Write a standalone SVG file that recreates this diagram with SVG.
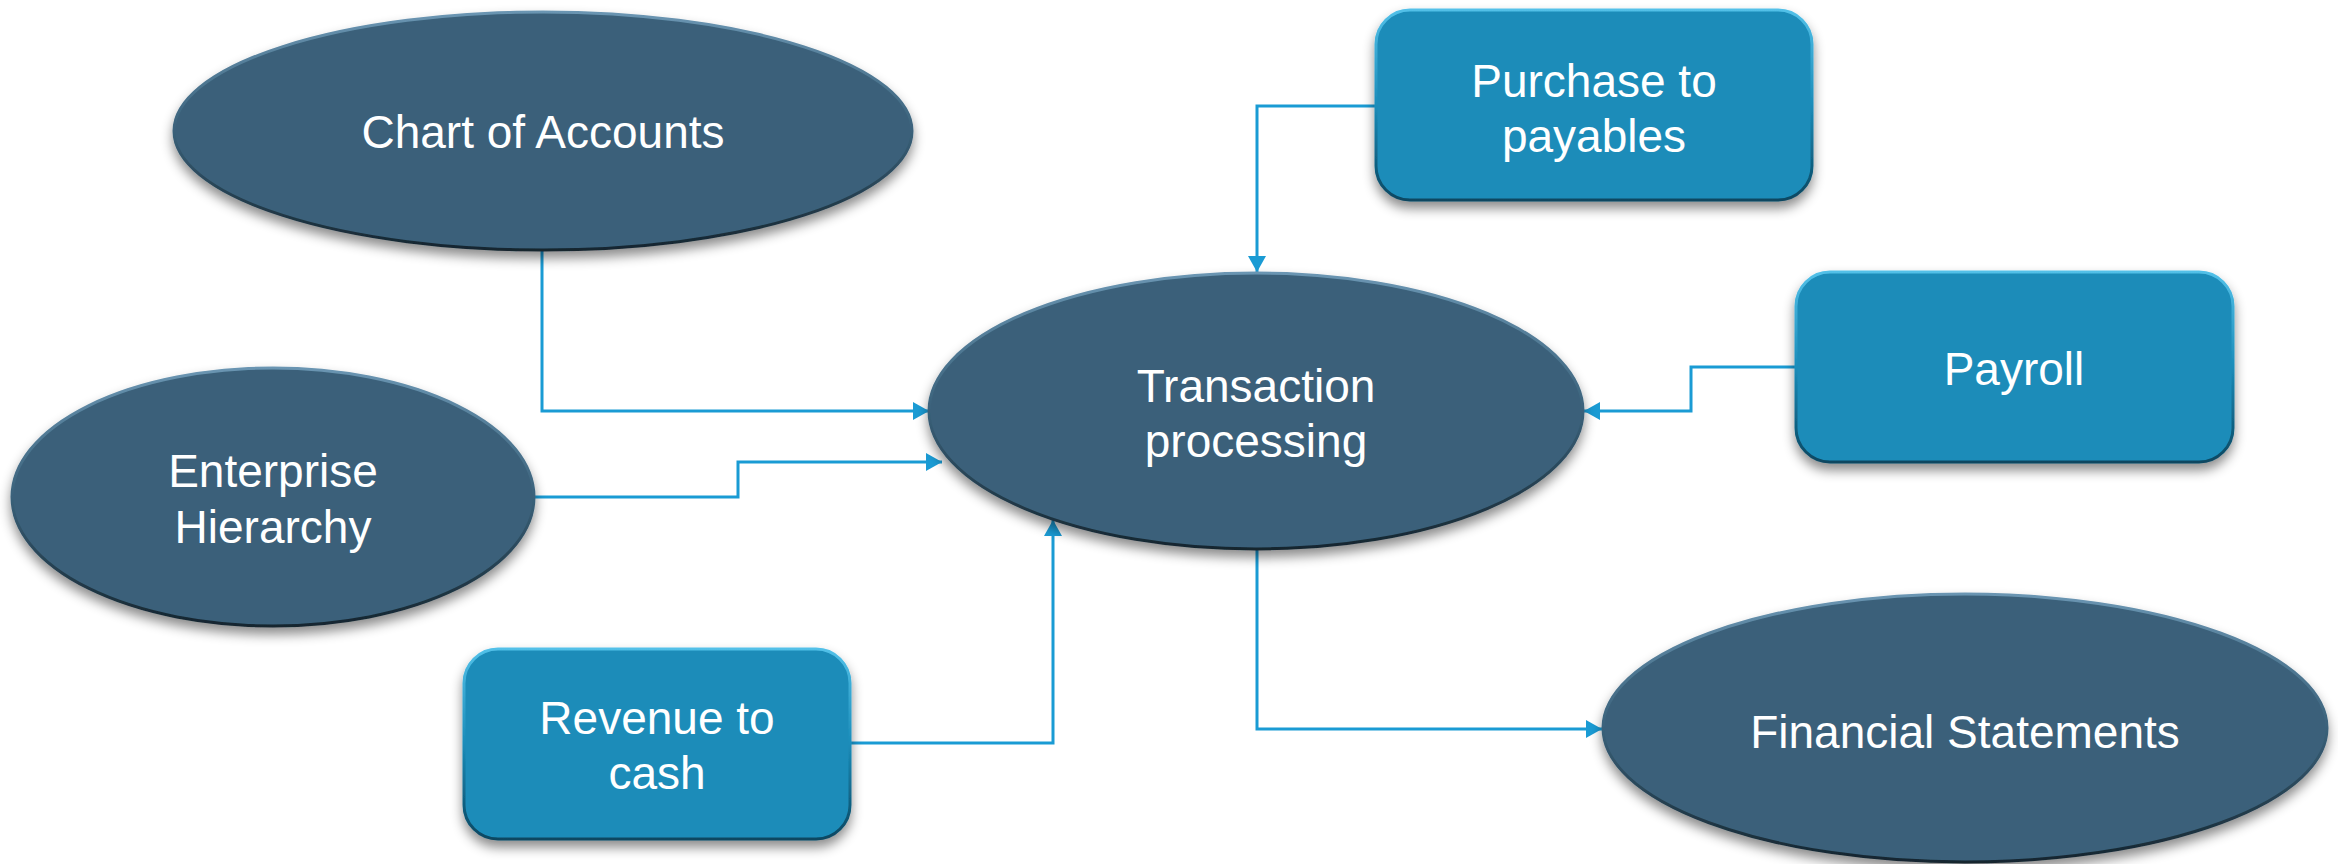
<svg xmlns="http://www.w3.org/2000/svg" width="2338" height="864" viewBox="0 0 2338 864">
  <style>
    .oval { fill: #3a617a; stroke: url(#rimOval); stroke-width: 3; filter: url(#lift); }
    .box { fill: #1b8cb9; stroke: url(#rimBox); stroke-width: 3; filter: url(#lift); }
    .lbl { font-family: "Liberation Sans", Arial, sans-serif; font-size: 46px; fill: #ffffff; text-anchor: middle; }
    .wire { fill: none; stroke: #1a9bd4; stroke-width: 3; marker-end: url(#tip); }
  </style>
  <defs>
    <linearGradient id="rimOval" x1="0" y1="0" x2="0" y2="1">
      <stop offset="0" stop-color="#6a95b2"/>
      <stop offset="0.5" stop-color="#3a617a"/>
      <stop offset="1" stop-color="#15252f"/>
    </linearGradient>
    <linearGradient id="rimBox" x1="0" y1="0" x2="0" y2="1">
      <stop offset="0" stop-color="#52c0e8"/>
      <stop offset="0.5" stop-color="#1b8cb9"/>
      <stop offset="1" stop-color="#0a4761"/>
    </linearGradient>
    <filter id="lift" x="-10%" y="-10%" width="120%" height="130%">
      <feDropShadow dx="0" dy="7" stdDeviation="6" flood-color="#000000" flood-opacity="0.45"/>
    </filter>
    <marker id="tip" markerUnits="userSpaceOnUse" markerWidth="17" markerHeight="18" refX="16" refY="9" orient="auto">
      <path d="M0,0 L16,9 L0,18 z" fill="#1a9bd4"/>
    </marker>
  </defs>

  <!-- connectors -->
  <g id="connectors">
    <path class="wire" d="M542 250 V411 H929"/>
    <path class="wire" d="M534 497 H738 V462 H942"/>
    <path class="wire" d="M850 743 H1053 V520"/>
    <path class="wire" d="M1376 106 H1257 V272"/>
    <path class="wire" d="M1796 367 H1691 V411 H1584"/>
    <path class="wire" d="M1257 550 V729 H1602"/>
  </g>

  <g id="chart-of-accounts">
    <ellipse class="oval" cx="543" cy="131" rx="369" ry="119"/>
    <text class="lbl" x="543" y="148">Chart of Accounts</text>
  </g>

  <g id="enterprise-hierarchy">
    <ellipse class="oval" cx="273" cy="497" rx="261" ry="129"/>
    <text class="lbl" x="273" y="487">Enterprise</text>
    <text class="lbl" x="273" y="543">Hierarchy</text>
  </g>

  <g id="transaction-processing">
    <ellipse class="oval" cx="1256" cy="411" rx="327" ry="138"/>
    <text class="lbl" x="1256" y="402">Transaction</text>
    <text class="lbl" x="1256" y="457">processing</text>
  </g>

  <g id="purchase-to-payables">
    <rect class="box" x="1376" y="10" width="436" height="190" rx="34"/>
    <text class="lbl" x="1594" y="97">Purchase to</text>
    <text class="lbl" x="1594" y="152">payables</text>
  </g>

  <g id="payroll">
    <rect class="box" x="1796" y="272" width="437" height="190" rx="34"/>
    <text class="lbl" x="2014" y="385">Payroll</text>
  </g>

  <g id="revenue-to-cash">
    <rect class="box" x="464" y="649" width="386" height="190" rx="34"/>
    <text class="lbl" x="657" y="734">Revenue to</text>
    <text class="lbl" x="657" y="789">cash</text>
  </g>

  <g id="financial-statements">
    <ellipse class="oval" cx="1965" cy="728" rx="362" ry="134"/>
    <text class="lbl" x="1965" y="748">Financial Statements</text>
  </g>
</svg>
